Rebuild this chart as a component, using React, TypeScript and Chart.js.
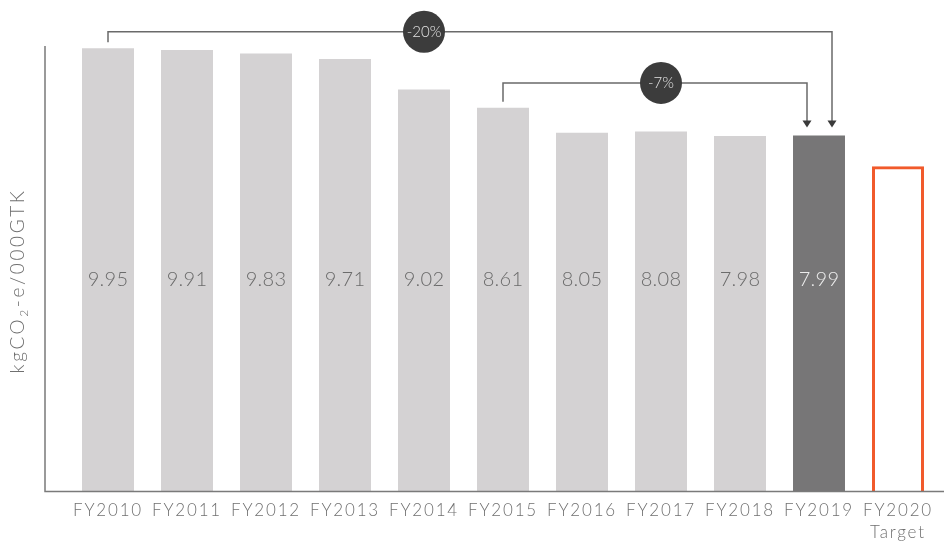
import React, { useEffect, useRef } from 'react';
import { Chart, registerables } from 'chart.js';

Chart.register(...registerables);

const categories: (string | string[])[] = [
  'FY2010', 'FY2011', 'FY2012', 'FY2013', 'FY2014', 'FY2015',
  'FY2016', 'FY2017', 'FY2018', 'FY2019', ['FY2020', 'Target'],
];
const actualValues = [9.95, 9.91, 9.83, 9.71, 9.02, 8.61, 8.05, 8.08, 7.98, 7.99];
const targetValue = 7.3;
const valueLabels = ['9.95', '9.91', '9.83', '9.71', '9.02', '8.61', '8.05', '8.08', '7.98', '7.99'];
const yMin = 0;
const yMax = 10;
const labelLevel = 4.75;
const brackets = [
  { from: 0, to: 9, badgeAt: 4, label: '-20%', level: 10.32, endShift: 13 },
  { from: 5, to: 9, badgeAt: 7, label: '-7%', level: 9.17, endShift: -12 },
];
const yTitleParts = [
  { text: 'kgCO', sub: false },
  { text: '2', sub: true },
  { text: '-e/000GTK', sub: false },
];

const FONT = 'Lato, "Open Sans", sans-serif';
const LIGHT = '#d4d2d3';
const DARK = '#777677';
const TARGET = '#f15a2b';
const LINE = '#6a6a6a';

const overlay = {
  id: 'overlay',
  beforeDraw(chart: any) {
    chart.ctx.letterSpacing = '1.8px';
  },
  beforeDatasetsDraw(chart: any) {
    chart.ctx.letterSpacing = '0px';
  },
  afterDatasetsDraw(chart: any) {
    const ctx = chart.ctx as CanvasRenderingContext2D;
    const x = chart.scales.x;
    const y = chart.scales.y;
    const area = chart.chartArea;
    const meta = chart.getDatasetMeta(0);
    ctx.save();
    ctx.letterSpacing = '0px';

    // axis lines
    const axisX = area.left - 23.5;
    ctx.strokeStyle = '#7a7a7a';
    ctx.lineWidth = 1.5;
    ctx.beginPath();
    ctx.moveTo(axisX, y.getPixelForValue(yMax));
    ctx.lineTo(axisX, area.bottom + 0.5);
    ctx.lineTo(chart.width, area.bottom + 0.5);
    ctx.stroke();

    // value labels
    ctx.font = `300 20px ${FONT}`;
    ctx.letterSpacing = '0.3px';
    ctx.textAlign = 'center';
    ctx.textBaseline = 'middle';
    const ly = y.getPixelForValue(labelLevel);
    valueLabels.forEach((t, i) => {
      ctx.fillStyle = i === actualValues.length - 1 ? '#ececec' : '#6b6b6b';
      ctx.fillText(t, meta.data[i].x, ly);
    });
    ctx.letterSpacing = '0px';

    // brackets
    brackets.forEach((b) => {
      const x0 = meta.data[b.from].x;
      const x1 = meta.data[b.to].x + b.endShift;
      const yl = y.getPixelForValue(b.level);
      const y0 = meta.data[b.from].y - 6;
      const tip = meta.data[b.to].y - 8;
      ctx.strokeStyle = LINE;
      ctx.lineWidth = 1.5;
      ctx.beginPath();
      ctx.moveTo(x0, y0);
      ctx.lineTo(x0, yl);
      ctx.lineTo(x1, yl);
      ctx.lineTo(x1, tip - 5);
      ctx.stroke();
      ctx.fillStyle = '#3a3a3a';
      ctx.beginPath();
      ctx.moveTo(x1 - 4.5, tip - 7);
      ctx.lineTo(x1 + 4.5, tip - 7);
      ctx.lineTo(x1, tip);
      ctx.closePath();
      ctx.fill();
      const bx = x.getPixelForValue(b.badgeAt);
      ctx.fillStyle = '#3c3c3c';
      ctx.beginPath();
      ctx.arc(bx, yl, 21, 0, Math.PI * 2);
      ctx.fill();
      ctx.fillStyle = '#e2e2e2';
      ctx.font = `300 15px ${FONT}`;
      ctx.textAlign = 'center';
      ctx.textBaseline = 'middle';
      ctx.fillText(b.label, bx, yl + 0.5);
    });

    // y title
    ctx.translate(18, 281);
    ctx.rotate(-Math.PI / 2);
    ctx.letterSpacing = '2.6px';
    ctx.fillStyle = '#707070';
    ctx.textBaseline = 'middle';
    ctx.textAlign = 'left';
    const mainFont = `300 19px ${FONT}`;
    const subFont = `300 12px ${FONT}`;
    const widths = yTitleParts.map((p) => {
      ctx.font = p.sub ? subFont : mainFont;
      return ctx.measureText(p.text).width;
    });
    let cx = -widths.reduce((a, w) => a + w, 0) / 2;
    yTitleParts.forEach((p, i) => {
      ctx.font = p.sub ? subFont : mainFont;
      ctx.fillText(p.text, cx, p.sub ? 6 : 0);
      cx += widths[i];
    });
    ctx.restore();
  },
};

export default function App() {
  const ref = useRef<HTMLCanvasElement>(null);
  useEffect(() => {
    document.body.style.margin = '0';
    const data = [...actualValues, targetValue];
    const bg = data.map((_, i) =>
      i === data.length - 1 ? 'rgba(255,255,255,0)' : i === actualValues.length - 1 ? DARK : LIGHT
    );
    const border = data.map((_, i) => (i === data.length - 1 ? TARGET : 'rgba(0,0,0,0)'));
    const bw = data.map((_, i) => (i === data.length - 1 ? 3 : 0));
    const chart = new Chart(ref.current!, {
      type: 'bar',
      data: {
        labels: categories,
        datasets: [
          {
            data,
            backgroundColor: bg,
            borderColor: border,
            borderWidth: bw,
            borderSkipped: 'start',
            barPercentage: 0.658,
            categoryPercentage: 1,
          },
        ],
      },
      options: {
        responsive: false,
        animation: false,
        devicePixelRatio: 1,
        layout: { padding: { left: 68.5, right: 6.5, top: 46, bottom: 0 } },
        plugins: { legend: { display: false }, tooltip: { enabled: false } },
        scales: {
          x: {
            grid: { display: false, drawTicks: false },
            border: { display: false },
            ticks: {
              color: '#707070',
              padding: 8,
              maxRotation: 0,
              autoSkip: false,
              font: { family: FONT, size: 17, weight: '300', lineHeight: 1.3 },
            },
            afterFit: (s: any) => {
              s.height = 51;
              s.paddingLeft = 0;
              s.paddingRight = 0;
            },
          },
          y: { display: false, min: yMin, max: yMax },
        },
      },
      plugins: [overlay],
    } as any);
    return () => chart.destroy();
  }, []);
  return (
    <div style={{ width: 944, height: 542, overflow: 'hidden' }}>
      <canvas ref={ref} width={944} height={542} />
    </div>
  );
}
